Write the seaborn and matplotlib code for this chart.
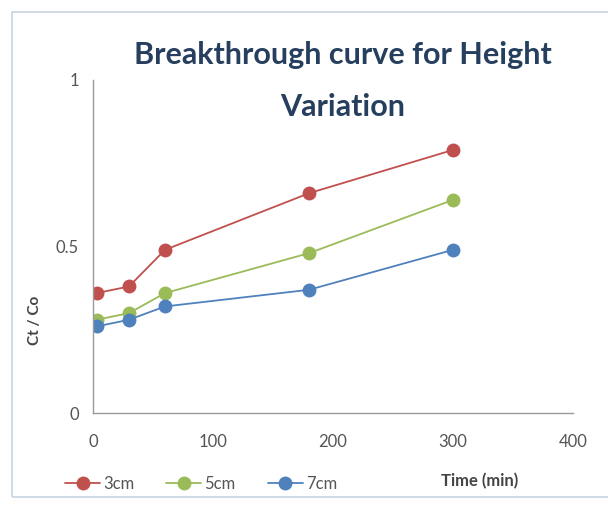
import seaborn as sns
import matplotlib.pyplot as plt
import pandas as pd
from matplotlib.patches import Rectangle

# data
time_min = [3, 30, 60, 180, 300]
h3 = [0.36, 0.38, 0.49, 0.66, 0.79]
h5 = [0.28, 0.30, 0.36, 0.48, 0.64]
h7 = [0.26, 0.28, 0.32, 0.37, 0.49]
series = ["3cm", "5cm", "7cm"]
colors = ["#C0504D", "#9BBB59", "#4F81BD"]

df = pd.DataFrame({
    "Time (min)": time_min * 3,
    "ratio": h3 + h5 + h7,
    "height": [s for s in series for _ in time_min],
})

sns.set_theme(style="white")
plt.rcParams["font.family"] = ["Lato", "DejaVu Sans"]

fig = plt.figure(figsize=(6.08, 5.09), dpi=100)
ax = fig.add_axes([93 / 608, 1 - 413 / 509, 480 / 608, 333 / 509])

sns.lineplot(data=df, x="Time (min)", y="ratio", hue="height", palette=colors,
             marker="o", markersize=10, markeredgewidth=0, linewidth=1.3, ax=ax)

ax.set_xlim(0, 400)
ax.set_ylim(0, 1)
ax.set_xticks([0, 100, 200, 300, 400])
ax.set_yticks([0, 0.5, 1])
ax.set_yticklabels(["0", "0.5", "1"])
for s in ["top", "right"]:
    ax.spines[s].set_visible(False)
for s in ["left", "bottom"]:
    ax.spines[s].set_color("#9a9a9a")
    ax.spines[s].set_linewidth(1)
ax.tick_params(axis="both", length=0, labelsize=12, labelcolor="#555555", pad=10)
ax.tick_params(axis="x", pad=15)
ax.set_xlabel("")
ax.set_ylabel("")

ax.legend_.remove()
handles, labels = ax.get_legend_handles_labels()
fig.legend(handles, labels, loc="center left", bbox_to_anchor=(50 / 608, 1 - 484 / 509),
           ncol=3, frameon=False, fontsize=12, handlelength=2.1, handletextpad=0.2,
           columnspacing=1.9, labelcolor="#555555")

fig.text(480 / 608, 1 - 481 / 509, "Time (min)", ha="center", va="center",
         fontsize=12, fontweight="bold", color="#444444")
fig.text(35 / 608, 1 - 320 / 509, "Ct / Co", ha="center", va="center",
         rotation=90, fontsize=11, fontweight="bold", color="#444444")

fig.text(343 / 608, 1 - 55 / 509, "Breakthrough curve for Height", ha="center",
         va="center", fontsize=22, fontweight="bold", color="#263F5E")
fig.text(343 / 608, 1 - 107 / 509, "Variation", ha="center",
         va="center", fontsize=22, fontweight="bold", color="#263F5E")

fig.patches.append(Rectangle((12 / 608, 1 - 497 / 509), 620 / 608, 485 / 509,
                             transform=fig.transFigure, fill=False,
                             edgecolor="#c8d4e0", linewidth=1.2))

fig.savefig("out.png", dpi=100)
